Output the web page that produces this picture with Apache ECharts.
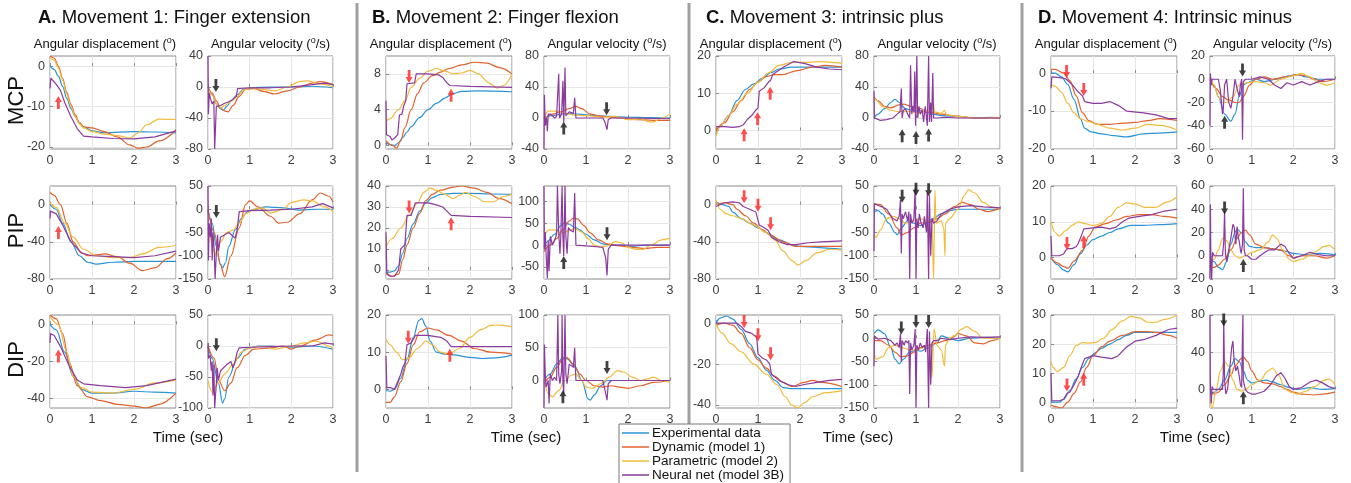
<!DOCTYPE html>
<html><head><meta charset="utf-8">
<script src="https://cdn.jsdelivr.net/npm/echarts@6/dist/echarts.min.js"></script>
<style>html,body{margin:0;padding:0;background:#fff}#c{width:1351px;height:483px}</style>
</head><body><div id="c"></div><script>
// ---------- DATA ----------
const SERIES_NAMES = ['Experimental data','Dynamic (model 1)','Parametric (model 2)','Neural net (model 3B)'];
const PANEL_TITLES = [['A.',' Movement 1: Finger extension'],['B.',' Movement 2: Finger flexion'],['C.',' Movement 3: intrinsic plus'],['D.',' Movement 4: Intrinsic minus']];
const JOINTS = ['MCP','PIP','DIP'];
const TIME_TICKS = [0,1,2,3];

// each: [experimental, dynamic, parametric, neural net] as [time, value] lists
// y-axis: [min, max, tick labels]; arrows: [time, value, direction, colour key]
const A_MCP_D = [
 [[0,0],[0.1,-0.8],[0.2,-2.5],[0.3,-5],[0.4,-8],[0.5,-10.5],[0.6,-12.5],[0.7,-14],[0.8,-15],[1,-16],[1.3,-16.5],[2,-16.2],[2.5,-16.3],[3,-16.5]],
 [[0,2.5],[0.1,2],[0.2,0],[0.3,-3],[0.4,-6.5],[0.5,-9.5],[0.6,-12],[0.7,-14],[0.8,-15],[1,-15.3],[1.3,-16.2],[1.6,-17.5],[1.9,-19.5],[2.1,-20.3],[2.3,-20],[2.6,-18.5],[3,-15.8]],
 [[0,2],[0.1,1.5],[0.2,-0.5],[0.3,-3.5],[0.4,-7],[0.5,-10],[0.6,-12.5],[0.7,-14.3],[0.8,-15.3],[1,-16.2],[1.3,-16.8],[1.6,-17.2],[1.9,-17.8],[2.1,-16.5],[2.3,-14.5],[2.6,-13.1],[3,-13.2]],
 [[0,-5.5],[0.02,-3],[0.15,-4.5],[0.25,-6],[0.35,-9],[0.5,-12.5],[0.65,-15.5],[0.8,-17.3],[1,-17.5],[1.5,-17.9],[2,-18],[2.5,-17.5],[3,-16]]
];
const A_MCP_D_Y = [-20.5, 2.5, [-20,-10,0]];
const A_MCP_D_ARR = [[0.2,-9,'up','r']];

const A_MCP_V = [
 [[0,0],[0.1,-10],[0.2,-22],[0.3,-28],[0.37,-30],[0.45,-25],[0.55,-18],[0.7,-10],[0.85,-3],[1,-1],[1.5,0],[2,0],[2.5,1],[3,-1]],
 [[0,0],[0.1,-8],[0.2,-18],[0.3,-27],[0.4,-31],[0.48,-32],[0.6,-24],[0.75,-12],[0.9,-3],[1.1,-2],[1.35,-6],[1.6,-9],[1.9,-5],[2.2,0],[2.5,5],[2.7,7],[3,3]],
 [[0,-2],[0.1,-10],[0.2,-22],[0.3,-27],[0.4,-24],[0.55,-19],[0.7,-12],[0.85,-4],[1,-1],[1.3,-3],[1.6,-5],[1.9,0],[2.2,7],[2.4,8],[2.7,4],[3,0]],
 [[0,40],[0.01,-35],[0.03,-8],[0.06,-15],[0.1,-22],[0.14,-18],[0.16,-80],[0.19,-80],[0.2,-25],[0.3,-24],[0.4,-21],[0.5,-19],[0.6,-16],[0.68,-12],[0.71,-2],[1,-1],[1.5,-1],[2,0],[2.5,3],[2.8,5],[3,3]]
];
const A_MCP_V_Y = [-80, 40, [-80,-40,0,40]];
const A_MCP_V_ARR = [[0.19,2,'down','k']];

const A_PIP_D = [
 [[0,0],[0.15,-5],[0.3,-20],[0.5,-40],[0.7,-55],[0.9,-62],[1.1,-64],[1.5,-62],[2,-61],[3,-61]],
 [[0,13],[0.1,10],[0.25,0],[0.4,-20],[0.55,-40],[0.75,-52],[0.9,-55],[1.1,-54],[1.3,-53],[1.6,-56],[1.9,-63],[2.2,-71],[2.5,-68],[2.8,-58],[3,-52]],
 [[0,2],[0.15,-3],[0.35,-20],[0.55,-35],[0.8,-48],[1.1,-55],[1.5,-57],[1.9,-57],[2.2,-53],[2.6,-46],[3,-44]],
 [[0,-15],[0.01,-7],[0.15,-10],[0.3,-22],[0.5,-40],[0.75,-52],[1,-55],[1.5,-56],[2,-57],[2.5,-55],[3,-50]]
];
const A_PIP_D_Y = [-80, 20, [-80,-40,0]];
const A_PIP_D_ARR = [[0.2,-30,'up','r']];

const A_PIP_V = [
 [[0,0],[0.1,-30],[0.2,-80],[0.3,-118],[0.35,-126],[0.42,-115],[0.5,-80],[0.65,-45],[0.8,-20],[0.95,-5],[1.1,0],[1.4,5],[1.8,3],[2.2,-2],[2.6,0],[3,0]],
 [[0,0],[0.15,-50],[0.3,-120],[0.4,-145],[0.55,-100],[0.75,-40],[0.9,10],[1.0,18],[1.2,5],[1.5,-15],[1.7,-30],[1.9,-28],[2.2,-10],[2.5,20],[2.7,35],[2.9,28],[3,15]],
 [[0,-30],[0.15,-90],[0.2,-100],[0.3,-70],[0.45,-50],[0.6,-45],[0.75,-30],[0.9,-10],[1.1,0],[1.3,3],[1.5,-8],[1.8,0],[2.0,15],[2.3,20],[2.5,18],[2.8,5],[3,-5]],
 [[0,50],[0.01,-110],[0.03,-30],[0.06,-60],[0.08,-20],[0.1,-110],[0.12,-50],[0.15,-90],[0.17,-150],[0.19,-150],[0.2,-95],[0.23,-55],[0.25,-90],[0.3,-60],[0.4,-55],[0.5,-50],[0.6,-58],[0.65,-62],[0.7,-45],[0.75,-5],[1,-3],[1.5,-2],[2,0],[2.5,5],[2.75,12],[3,3]]
];
const A_PIP_V_Y = [-150, 50, [-150,-100,-50,0,50]];
const A_PIP_V_ARR = [[0.2,-5,'down','k']];

const A_DIP_D = [
 [[0,0],[0.15,-3],[0.35,-15],[0.55,-28],[0.75,-35],[1,-37],[1.5,-37],[2,-36],[2.5,-36.5],[3,-37]],
 [[0,5],[0.15,3],[0.3,-5],[0.45,-20],[0.65,-33],[0.9,-39],[1.2,-41],[1.6,-43],[2.0,-44],[2.3,-45],[2.6,-43],[3,-37]],
 [[0,4],[0.2,0],[0.4,-15],[0.55,-28],[0.75,-34],[1,-36.5],[1.5,-37],[2,-35],[2.5,-31.5],[3,-30]],
 [[0,-10],[0.01,-5],[0.1,-6],[0.25,-12],[0.45,-22],[0.65,-30],[0.8,-32],[1.2,-33],[1.8,-34],[2.3,-33],[2.7,-31],[3,-29.5]]
];
const A_DIP_D_Y = [-45, 5, [-40,-20,0]];
const A_DIP_D_ARR = [[0.2,-17,'up','r']];

const A_DIP_V = [
 [[0,0],[0.1,-20],[0.25,-60],[0.35,-92],[0.4,-85],[0.5,-50],[0.7,-20],[0.9,-5],[1.2,0],[1.5,0],[2,-2],[2.5,0],[3,-5]],
 [[0,0],[0.15,-20],[0.25,-55],[0.4,-72],[0.55,-60],[0.7,-35],[0.9,-15],[1.1,-5],[1.5,-3],[1.8,0],[2.0,-5],[2.2,0],[2.6,10],[2.9,18],[3,17]],
 [[0,-55],[0.1,-75],[0.25,-60],[0.4,-45],[0.6,-30],[0.8,-10],[1,-3],[1.3,0],[1.6,-5],[2,0],[2.3,5],[2.6,8],[2.9,0],[3,-5]],
 [[0,5],[0.01,-20],[0.05,-15],[0.08,-40],[0.1,-25],[0.12,-80],[0.14,-30],[0.16,-100],[0.18,-100],[0.2,-60],[0.22,-35],[0.25,-55],[0.3,-40],[0.45,-30],[0.55,-25],[0.6,-35],[0.65,-25],[0.7,-10],[0.75,-3],[1,-2],[1.5,-1],[2,0],[2.5,0],[2.8,5],[3,3]]
];
const A_DIP_V_Y = [-100, 50, [-100,-50,0,50]];
const A_DIP_V_ARR = [[0.2,2,'down','k']];

const B_MCP_D = [
 [[0,0.3],[0.1,0.1],[0.2,0],[0.3,0.3],[0.4,0.9],[0.5,1.5],[0.6,2.1],[0.8,3.1],[1,4],[1.2,4.7],[1.4,5.3],[1.6,5.8],[1.8,6.05],[2.2,6.1],[3,6]],
 [[0,0.5],[0.15,0],[0.25,-0.3],[0.35,0.5],[0.45,2],[0.6,4],[0.75,5.8],[0.9,7],[1.1,7.8],[1.3,8.2],[1.5,8.6],[1.8,9],[2.1,9.3],[2.4,9.2],[2.7,8.7],[3,8]],
 [[0,2.7],[0.1,3],[0.3,4],[0.45,5],[0.6,6.5],[0.8,7.5],[1.0,8.3],[1.2,8.6],[1.4,8.3],[1.6,8],[1.8,8.1],[2.0,8.4],[2.2,8.0],[2.45,7],[2.65,6.4],[2.8,6.7],[3,8]],
 [[0,5],[0.01,1.2],[0.05,1],[0.1,1],[0.14,0.6],[0.2,0.8],[0.28,1.2],[0.32,3.4],[0.38,3.5],[0.42,4.4],[0.47,5],[0.5,6.9],[0.68,7],[0.72,8],[1,8],[1.25,7.9],[1.35,7.6],[1.45,7.0],[1.52,6.7],[2,6.6],[3,6.5]]
];
const B_MCP_D_Y = [-0.4, 10, [0,4,8]];
const B_MCP_D_ARR = [[0.55,7.7,'down','r'],[1.55,5.6,'up','r']];

const B_MCP_V = [
 [[0,0],[0.2,3],[0.4,5],[0.6,6],[0.8,5],[1.2,3],[1.6,2],[2,1],[2.5,0.5],[3,0]],
 [[0,-2],[0.2,5],[0.4,8],[0.6,12],[0.75,15],[0.9,12],[1.1,5],[1.4,2],[1.8,0],[2.2,-2],[2.6,-3],[3,-3]],
 [[0,0],[0.1,9],[0.3,9],[0.5,6],[0.7,4],[1.0,3],[1.4,1],[1.7,2],[2.0,-2],[2.15,-2],[2.3,-1],[2.5,-5],[2.6,-5],[2.8,0],[3,5]],
 [[0,-40],[0.01,30],[0.03,-10],[0.06,0],[0.08,-17],[0.1,5],[0.15,5],[0.2,3],[0.25,0],[0.3,2],[0.35,57],[0.37,0],[0.42,5],[0.45,48],[0.47,-5],[0.5,65],[0.52,3],[0.55,5],[0.6,8],[0.7,6],[0.73,26],[0.76,0],[1,0],[1.4,0],[1.45,-5],[1.5,-15],[1.53,-2],[1.6,0],[2,0],[3,-1]]
];
const B_MCP_V_Y = [-40, 80, [-40,0,40,80]];
const B_MCP_V_ARR = [[1.49,12,'down','k'],[0.47,-13,'up','k']];

const B_PIP_D = [
 [[0,-1],[0.1,-1],[0.2,-0.5],[0.3,2],[0.4,8],[0.5,15],[0.65,22],[0.8,28],[0.95,32],[1.1,34.5],[1.3,36],[1.6,36.5],[2,36.5],[2.5,36.2],[3,36]],
 [[0,-1],[0.15,-3],[0.3,-2],[0.4,5],[0.5,12],[0.65,20],[0.8,27],[0.95,33],[1.1,36],[1.3,38],[1.6,39.5],[1.8,40],[2.1,39],[2.4,37],[2.7,34],[3,31.5]],
 [[0,11],[0.15,15],[0.35,20],[0.55,26],[0.75,32],[0.9,37],[1.05,39],[1.2,38],[1.4,36],[1.6,34],[1.75,35.5],[1.9,37],[2.1,35],[2.35,32.5],[2.55,32.5],[2.8,35],[3,36]],
 [[0,18],[0.02,-2],[0.05,-2],[0.1,-3],[0.2,-3],[0.3,0],[0.35,10],[0.4,11],[0.45,12],[0.5,26],[0.6,26],[0.7,32],[1.0,32],[1.2,31],[1.35,30],[1.45,28],[1.55,26],[2,25.5],[3,25]]
];
const B_PIP_D_Y = [-4.3, 40, [0,10,20,30,40]];
const B_PIP_D_ARR = [[0.55,30,'down','r'],[1.55,22,'up','r']];

const B_PIP_V = [
 [[0,-5],[0.1,10],[0.25,25],[0.4,45],[0.5,52],[0.6,48],[0.75,40],[0.85,35],[1.0,25],[1.2,12],[1.4,3],[1.6,0],[1.8,0],[2.1,-3],[2.4,0],[3,0]],
 [[0,-15],[0.15,0],[0.3,15],[0.45,35],[0.6,55],[0.7,62],[0.8,60],[0.95,45],[1.1,28],[1.3,12],[1.5,3],[1.8,-2],[2.1,-5],[2.4,-8],[2.7,-5],[3,-5]],
 [[0,20],[0.12,35],[0.25,35],[0.4,28],[0.5,30],[0.6,35],[0.75,38],[0.9,30],[1.05,15],[1.2,0],[1.35,-5],[1.5,-2],[1.7,8],[1.85,5],[2.0,-5],[2.2,-10],[2.35,-10],[2.55,0],[2.8,12],[3,16]],
 [[0,136],[0.01,-10],[0.03,30],[0.05,-20],[0.08,-76],[0.1,10],[0.12,-60],[0.15,20],[0.2,0],[0.25,10],[0.3,25],[0.32,136],[0.35,30],[0.38,-20],[0.4,20],[0.43,136],[0.45,20],[0.47,-25],[0.5,136],[0.52,20],[0.55,-20],[0.58,40],[0.62,35],[0.7,30],[0.73,120],[0.76,0],[1.0,-2],[1.4,-5],[1.47,-30],[1.5,-70],[1.53,-10],[1.6,0],[2,0],[3,0]]
];
const B_PIP_V_Y = [-78, 136, [-50,0,50,100]];
const B_PIP_V_ARR = [[1.5,26,'down','k'],[0.47,-40,'up','k']];

const B_DIP_D = [
 [[0,-0.3],[0.1,-0.5],[0.2,0],[0.35,3],[0.5,8],[0.65,14],[0.78,18.5],[0.85,19],[0.95,17],[1.05,13],[1.2,10],[1.4,9.5],[1.6,9.3],[2,8.6],[2.3,8.3],[2.6,8.5],[3,9.2]],
 [[0,-3.5],[0.1,-3.5],[0.2,-2],[0.35,2],[0.5,7],[0.65,12],[0.8,15.5],[1.0,16.5],[1.2,16],[1.5,14.5],[1.8,13],[2.1,11],[2.5,10],[3,9.5]],
 [[0,13.5],[0.1,12],[0.25,10],[0.4,8],[0.55,8.5],[0.75,11],[0.95,13],[1.1,12],[1.3,10],[1.5,9.5],[1.75,11],[2.0,14],[2.25,16],[2.5,17.2],[2.7,17.3],[3,16.8]],
 [[0,9],[0.02,0.5],[0.1,0.5],[0.2,0],[0.35,4],[0.4,6],[0.45,7],[0.5,12],[0.6,12.5],[0.7,14.5],[1.0,14.5],[1.3,14],[1.45,13],[1.55,11.5],[2,11.5],[3,11.5]]
];
const B_DIP_D_Y = [-5, 20, [0,10,20]];
const B_DIP_D_ARR = [[0.53,14,'down','r'],[1.52,9.2,'up','r']];

const B_DIP_V = [
 [[0,0],[0.15,10],[0.3,25],[0.45,35],[0.55,33],[0.75,20],[0.9,0],[1.05,-28],[1.1,-30],[1.2,-22],[1.35,-8],[1.5,0],[1.8,0],[3,0]],
 [[0,-5],[0.15,5],[0.3,20],[0.45,33],[0.55,35],[0.7,25],[0.85,10],[1.0,0],[1.2,-8],[1.4,-10],[1.6,-8],[1.8,-10],[2.0,-12],[2.3,-8],[2.6,-3],[3,0]],
 [[0,5],[0.1,-20],[0.2,-25],[0.35,-15],[0.5,0],[0.65,8],[0.75,10],[0.9,0],[1.0,-10],[1.15,-12],[1.35,-5],[1.55,5],[1.75,15],[1.9,13],[2.1,5],[2.3,0],[2.5,3],[2.6,5],[2.8,0],[3,-3]],
 [[0,-42],[0.01,55],[0.03,10],[0.05,-10],[0.1,0],[0.12,-35],[0.15,10],[0.2,0],[0.25,5],[0.3,0],[0.33,100],[0.35,10],[0.38,-5],[0.42,15],[0.43,100],[0.45,0],[0.47,-20],[0.5,100],[0.52,10],[0.55,-5],[0.6,25],[0.7,20],[0.73,50],[0.76,0],[1,0],[1.4,0],[1.47,-20],[1.5,-30],[1.53,-5],[1.6,0],[3,0]]
];
const B_DIP_V_Y = [-42, 100, [0,50,100]];
const B_DIP_V_ARR = [[1.5,20,'down','k'],[0.45,-25,'up','k']];

const C_MCP_D = [
 [[0,-1],[0.1,1],[0.3,4],[0.5,8],[0.7,11],[0.9,12.5],[1.1,14],[1.3,15.5],[1.5,16.5],[1.8,17],[2.2,17],[2.6,17],[3,17]],
 [[0,0],[0.2,2],[0.4,5],[0.6,8],[0.8,11],[1.0,13],[1.2,14.5],[1.4,15],[1.6,15],[1.9,16],[2.3,17],[2.6,17.5],[3,17]],
 [[0,-1.5],[0.1,1],[0.3,4],[0.5,7],[0.75,10],[1.0,13],[1.25,15.5],[1.5,17.5],[1.8,18.3],[2.2,18.3],[2.5,18.5],[3,18]],
 [[0,1],[0.2,1],[0.4,0.8],[0.55,1],[0.65,1.5],[0.75,3],[0.85,4],[0.95,5.5],[1.0,6],[1.03,10.5],[1.15,11.5],[1.25,13],[1.3,13.5],[1.35,15],[1.6,17],[1.85,18.5],[2.1,18],[2.4,17],[2.7,16.5],[3,16.3]]
];
const C_MCP_D_Y = [-5, 20, [0,10,20]];
const C_MCP_D_ARR = [[0.67,-1.2,'up','r'],[0.99,3.1,'up','r'],[1.29,10,'up','r']];

const C_MCP_V = [
 [[0,0],[0.1,5],[0.25,12],[0.4,20],[0.5,24],[0.6,20],[0.75,12],[0.9,10],[1.0,9],[1.1,10],[1.2,8],[1.4,5],[1.6,3],[2.0,2],[2.4,0],[2.8,1],[3,0]],
 [[0,27],[0.1,22],[0.25,15],[0.4,13],[0.6,17],[0.7,18],[0.9,15],[1.1,12],[1.3,8],[1.6,5],[2.0,2],[2.4,0],[3,0]],
 [[0,25],[0.05,23],[0.2,15],[0.4,10],[0.6,8],[0.8,9],[1.0,7],[1.2,8],[1.38,9],[1.41,20],[1.44,8],[1.6,6],[1.68,10],[1.72,4],[2,2],[2.5,0],[3,1]],
 [[0,35],[0.01,0],[0.05,-2],[0.15,-3],[0.3,-2],[0.45,0],[0.55,5],[0.62,8],[0.65,38],[0.67,0],[0.7,10],[0.75,12],[0.8,5],[0.85,0],[0.87,68],[0.9,5],[0.92,15],[0.95,8],[0.97,60],[0.99,-10],[1.02,80],[1.04,0],[1.07,15],[1.1,5],[1.15,10],[1.18,-5],[1.22,15],[1.25,0],[1.27,-10],[1.3,80],[1.32,-5],[1.35,20],[1.37,-5],[1.4,58],[1.42,0],[1.5,0],[1.7,1],[2,0],[2.5,0],[3,0]]
];
const C_MCP_V_Y = [-40, 80, [-40,0,40,80]];
const C_MCP_V_ARR = [[0.67,-23,'up','k'],[1.0,-25,'up','k'],[1.3,-22,'up','k']];

const C_PIP_D = [
 [[0,3],[0.15,0],[0.3,-2],[0.4,-8],[0.6,-15],[0.8,-20],[1.0,-25],[1.2,-30],[1.5,-38],[1.8,-43],[2.0,-45],[2.4,-46],[2.7,-47],[3,-48]],
 [[0,0],[0.2,2],[0.4,0],[0.5,-5],[0.7,-12],[0.9,-20],[1.1,-27],[1.3,-33],[1.6,-40],[1.9,-45],[2.2,-45],[2.6,-45],[3,-45]],
 [[0,5],[0.1,-5],[0.25,-10],[0.4,-12],[0.6,-15],[0.9,-22],[1.2,-30],[1.4,-38],[1.6,-50],[1.8,-60],[1.95,-65],[2.15,-60],[2.4,-52],[2.7,-48],[3,-49]],
 [[0,-2],[0.2,2],[0.4,3],[0.55,2],[0.65,-2],[0.8,-5],[0.95,-8],[0.98,-10],[1.03,-22],[1.15,-25],[1.25,-28],[1.28,-30],[1.32,-35],[1.5,-40],[1.7,-43],[1.9,-43],[2.2,-41],[2.5,-40],[3,-39]]
];
const C_PIP_D_Y = [-80, 20, [-80,-40,0]];
const C_PIP_D_ARR = [[0.67,8.5,'down','r'],[1.0,-0.7,'down','r'],[1.3,-20.7,'down','r']];

const C_PIP_V = [
 [[0,-5],[0.1,-3],[0.2,-10],[0.35,-30],[0.5,-50],[0.55,-55],[0.65,-40],[0.8,-25],[0.95,-30],[1.1,-35],[1.25,-30],[1.4,-20],[1.6,-10],[1.8,-3],[2.0,0],[2.5,0],[3,0]],
 [[0,12],[0.15,10],[0.35,-10],[0.55,-40],[0.65,-55],[0.8,-50],[0.95,-40],[1.1,-30],[1.3,-28],[1.5,-20],[1.7,-10],[1.9,5],[2.1,15],[2.3,10],[2.5,0],[2.7,-5],[3,3]],
 [[0,-55],[0.05,-60],[0.15,-45],[0.3,-20],[0.45,-15],[0.6,-20],[0.75,-30],[0.95,-25],[1.1,-20],[1.25,-25],[1.38,-30],[1.42,-150],[1.45,40],[1.48,-30],[1.6,-25],[1.66,-40],[1.69,-100],[1.7,-30],[1.8,-20],[2,0],[2.15,30],[2.25,42],[2.4,35],[2.6,15],[2.8,5],[3,0]],
 [[0,-90],[0.01,12],[0.1,8],[0.2,5],[0.3,0],[0.45,-20],[0.55,-25],[0.6,-15],[0.63,20],[0.65,-95],[0.67,-10],[0.7,-20],[0.75,-5],[0.8,-25],[0.83,-5],[0.85,-150],[0.87,-10],[0.9,-30],[0.95,-20],[0.98,45],[1.0,-150],[1.02,-20],[1.05,-40],[1.08,-10],[1.12,-30],[1.17,-40],[1.2,-15],[1.25,-50],[1.27,35],[1.3,-150],[1.32,30],[1.35,-100],[1.38,-20],[1.42,-30],[1.5,-25],[1.6,-10],[1.8,0],[2.0,5],[2.3,8],[2.6,5],[3,3]]
];
const C_PIP_V_Y = [-150, 50, [-150,-100,-50,0,50]];
const C_PIP_V_ARR = [[0.67,28,'down','k'],[1.0,43,'down','k'],[1.3,42,'down','k']];

const C_DIP_D = [
 [[0,0],[0.1,2.5],[0.25,3.5],[0.4,2],[0.6,-3],[0.8,-10],[1.0,-17],[1.2,-23],[1.4,-28],[1.6,-31.5],[1.8,-32],[2.2,-32],[2.6,-32],[3,-32]],
 [[0,-1],[0.2,0],[0.4,-1],[0.6,-5],[0.8,-12],[1.0,-18],[1.2,-22],[1.4,-26],[1.6,-29],[1.8,-31],[2.1,-29],[2.3,-28],[2.5,-29],[3,-31]],
 [[0,0],[0.15,-5],[0.35,-10],[0.6,-14],[0.9,-20],[1.2,-25],[1.45,-30],[1.65,-36],[1.8,-40],[1.95,-41.5],[2.1,-39],[2.3,-36],[2.6,-34],[3,-33]],
 [[0,0],[0.3,0],[0.5,0],[0.62,-2],[0.7,-4],[0.85,-5],[0.97,-7],[1.0,-15],[1.1,-17],[1.2,-18],[1.28,-20],[1.32,-25],[1.5,-28],[1.7,-30],[1.9,-31],[2.1,-30],[2.4,-29],[2.7,-28],[3,-27.5]]
];
const C_DIP_D_Y = [-41.5, 4, [-40,-20,0]];
const C_DIP_D_ARR = [[0.67,0.8,'down','r'],[1.0,-5.7,'down','r'],[1.3,-15,'down','r']];

const C_DIP_V = [
 [[0,10],[0.1,18],[0.25,10],[0.4,-20],[0.5,-45],[0.6,-55],[0.7,-45],[0.85,-30],[1.0,-25],[1.1,-28],[1.3,-20],[1.5,-10],[1.6,5],[1.8,0],[2.0,-5],[2.3,0],[2.6,2],[3,0]],
 [[0,-5],[0.15,-5],[0.35,-15],[0.5,-30],[0.65,-40],[0.8,-38],[0.95,-30],[1.1,-20],[1.3,-15],[1.5,-10],[1.7,-5],[1.9,3],[2.0,10],[2.2,5],[2.4,-10],[2.6,-12],[2.8,-5],[3,0]],
 [[0,-30],[0.05,-45],[0.2,-40],[0.35,-20],[0.5,-15],[0.65,-20],[0.85,-25],[1.0,-25],[1.2,-20],[1.35,-22],[1.38,-85],[1.43,20],[1.5,-15],[1.6,-25],[1.68,-60],[1.7,-15],[1.8,0],[1.9,5],[2.1,20],[2.2,25],[2.4,15],[2.6,0],[3,0]],
 [[0,-60],[0.01,5],[0.1,-2],[0.25,0],[0.4,-5],[0.5,-15],[0.55,-10],[0.6,-20],[0.63,10],[0.65,-50],[0.67,-5],[0.72,-15],[0.75,-5],[0.8,-10],[0.83,-5],[0.85,-120],[0.87,-10],[0.9,-25],[0.95,-15],[0.98,20],[1.0,-150],[1.02,-15],[1.06,-25],[1.1,-10],[1.15,-20],[1.2,-15],[1.23,-30],[1.27,20],[1.3,-150],[1.32,15],[1.35,-100],[1.38,-10],[1.42,-5],[1.5,-5],[1.6,0],[1.8,-3],[2.0,0],[2.3,3],[2.6,2],[3,3]]
];
const C_DIP_V_Y = [-150, 50, [-150,-100,-50,0,50]];
const C_DIP_V_ARR = [[0.65,22,'down','k'],[1.0,36,'down','k'],[1.3,36,'down','k']];

const D_MCP_D = [
 [[0,0],[0.1,0],[0.25,-1],[0.4,-3],[0.55,-7],[0.7,-12],[0.8,-14.5],[0.95,-15.5],[1.2,-16],[1.5,-16.5],[1.8,-16.8],[2.2,-16],[2.6,-15.8],[3,-15.5]],
 [[0,1],[0.1,1],[0.3,0],[0.45,-2],[0.6,-6],[0.75,-10.5],[0.9,-12.5],[1.1,-13.5],[1.4,-13.5],[1.7,-13.2],[2.0,-13],[2.3,-12.5],[2.6,-12],[3,-12.5]],
 [[0,-3],[0.1,-3.5],[0.25,-5],[0.4,-8],[0.55,-10.5],[0.7,-12],[0.9,-12.8],[1.1,-13.5],[1.4,-14.5],[1.7,-15],[2.0,-14.5],[2.3,-13.5],[2.6,-13.8],[3,-15]],
 [[0,-4],[0.02,-1],[0.2,-1.2],[0.35,-1.5],[0.5,-3],[0.65,-5],[0.75,-6],[0.8,-7.5],[1.0,-8],[1.2,-8],[1.4,-7.5],[1.6,-8.5],[1.8,-10],[2.2,-10.5],[2.5,-11],[2.8,-12],[3,-12]]
];
const D_MCP_D_Y = [-20, 4.5, [-20,-10,0]];
const D_MCP_D_ARR = [[0.37,0.4,'down','r'],[0.78,-4.3,'down','r']];

const D_MCP_V = [
 [[0,0],[0.1,-5],[0.2,-15],[0.35,-30],[0.5,-36],[0.6,-30],[0.7,-15],[0.8,-5],[0.9,-3],[1.1,0],[1.3,-2],[1.6,0],[1.9,3],[2.1,4],[2.3,2],[2.6,0],[3,0]],
 [[0,0],[0.15,-8],[0.3,-15],[0.45,-18],[0.6,-20],[0.7,-20],[0.8,-15],[0.95,-5],[1.1,0],[1.3,2],[1.5,0],[1.8,2],[2.1,4],[2.3,3],[2.5,0],[2.7,-2],[3,0]],
 [[0,3],[0.1,-5],[0.2,-15],[0.3,-20],[0.4,-20],[0.55,-15],[0.7,-5],[0.9,-3],[1.1,-2],[1.3,-3],[1.45,-5],[1.7,0],[2.0,3],[2.2,5],[2.4,2],[2.6,-3],[2.8,-5],[3,-3]],
 [[0,-40],[0.01,5],[0.03,-5],[0.05,0],[0.1,0],[0.2,0],[0.25,-10],[0.3,-30],[0.32,-25],[0.35,-5],[0.4,0],[0.45,-20],[0.5,-25],[0.55,-15],[0.6,0],[0.65,-8],[0.7,-15],[0.73,-5],[0.76,0],[0.78,-52],[0.8,-2],[0.85,0],[1.0,0],[1.2,2],[1.4,0],[1.55,-5],[1.7,-8],[1.85,-3],[2.0,-5],[2.2,-2],[2.4,-5],[2.6,-2],[2.8,0],[3,0]]
];
const D_MCP_V_Y = [-60, 20, [-60,-40,-20,0,20]];
const D_MCP_V_ARR = [[0.78,8,'down','k'],[0.35,-37,'up','k']];

const D_PIP_D = [
 [[0,0],[0.15,-2],[0.3,-3.5],[0.4,-4],[0.55,-2],[0.7,1],[0.85,3.5],[1.0,5],[1.2,6],[1.4,7],[1.6,8],[1.9,9],[2.2,9],[2.6,9.2],[3,9.5]],
 [[0,0],[0.15,-1.5],[0.3,-2.5],[0.4,-3],[0.55,-1],[0.75,2],[0.9,6],[1.05,8.5],[1.3,9.5],[1.55,10.5],[1.8,11.5],[2.1,12],[2.4,12],[2.7,11.5],[3,11]],
 [[0,10],[0.1,7],[0.2,6],[0.35,7.5],[0.5,9],[0.65,10],[0.8,9.5],[1.0,9],[1.2,9.5],[1.4,11.5],[1.6,14],[1.8,15.3],[2.0,15],[2.25,14],[2.5,14],[2.75,15.5],[3,17]],
 [[0,6],[0.02,0.5],[0.2,0.5],[0.3,1],[0.35,2],[0.4,2.5],[0.5,2.5],[0.6,3],[0.65,4],[0.72,6],[0.78,8],[1.0,8.3],[1.2,8.5],[1.4,8],[1.55,8.5],[1.7,10],[1.85,11],[2.1,11.5],[2.4,12],[2.7,13],[3,13.5]]
];
const D_PIP_D_Y = [-6, 20, [0,10,20]];
const D_PIP_D_ARR = [[0.38,3.9,'down','r'],[0.78,4.4,'up','r']];

const D_PIP_V = [
 [[0,-2],[0.1,-5],[0.2,-10],[0.3,-12],[0.4,-5],[0.5,10],[0.6,20],[0.65,23],[0.75,20],[0.85,12],[0.95,8],[1.1,7],[1.3,7],[1.5,6],[1.8,4],[2.0,2],[2.3,1],[2.6,2],[3,1]],
 [[0,-10],[0.1,-10],[0.2,-8],[0.35,-3],[0.5,5],[0.65,15],[0.75,20],[0.85,22],[0.95,18],[1.1,10],[1.3,7],[1.5,6],[1.7,5],[1.9,0],[2.0,-2],[2.2,0],[2.5,0],[2.8,-2],[3,0]],
 [[0,-5],[0.1,-3],[0.2,5],[0.3,15],[0.4,13],[0.5,5],[0.6,0],[0.7,-2],[0.85,0],[1.0,3],[1.2,5],[1.4,12],[1.5,18],[1.6,15],[1.75,5],[1.9,-3],[2.0,-5],[2.2,-3],[2.5,3],[2.75,8],[2.85,9],[3,5]],
 [[0,-20],[0.01,44],[0.02,0],[0.04,-20],[0.06,3],[0.08,2],[0.1,0],[0.2,0],[0.3,0],[0.33,12],[0.35,38],[0.37,2],[0.4,-5],[0.45,5],[0.5,15],[0.55,27],[0.58,25],[0.62,10],[0.65,25],[0.68,15],[0.7,13],[0.73,5],[0.75,2],[0.78,10],[0.8,58],[0.82,5],[0.85,0],[0.9,0],[1.0,-3],[1.1,-3],[1.2,0],[1.4,5],[1.55,5],[1.7,10],[1.8,8],[1.9,2],[2.0,-2],[2.2,0],[2.4,3],[2.6,1],[2.8,0],[3,0]]
];
const D_PIP_V_Y = [-20, 60, [-20,0,20,40,60]];
const D_PIP_V_ARR = [[0.35,41,'down','k'],[0.8,-8.3,'up','k']];

const D_DIP_D = [
 [[0,0],[0.2,0],[0.3,1],[0.45,4],[0.6,8],[0.75,12],[0.9,15],[1.05,17],[1.2,18.5],[1.4,20],[1.6,21.5],[1.8,23],[2.0,24],[2.4,24],[3,24]],
 [[0,-1],[0.1,-1.5],[0.25,-2],[0.4,0],[0.55,3],[0.7,7],[0.85,12],[1.0,16],[1.2,19],[1.4,21],[1.7,23],[2.0,24.3],[2.3,24.3],[2.5,24],[2.8,23],[3,22]],
 [[0,14],[0.05,12],[0.15,10.5],[0.3,12],[0.45,16],[0.6,19.5],[0.75,20.5],[0.9,20.3],[1.05,20.5],[1.25,22],[1.45,25],[1.7,28],[1.9,29.5],[2.1,29],[2.3,27.5],[2.5,27.5],[2.7,28.5],[3,30]],
 [[0,10],[0.02,0.5],[0.2,0.5],[0.3,1],[0.38,3],[0.45,3.5],[0.55,6],[0.65,9],[0.72,12],[0.8,15],[0.9,15.5],[1.0,16],[1.2,15.5],[1.45,15],[1.6,16],[1.8,19],[2.0,21],[2.2,21.5],[2.5,23],[2.8,25],[3,25.5]]
];
const D_DIP_D_Y = [-2, 30, [0,10,20,30]];
const D_DIP_D_ARR = [[0.38,5.9,'down','r'],[0.78,7.9,'up','r']];

const D_DIP_V = [
 [[0,-5],[0.1,-3],[0.2,0],[0.35,10],[0.5,25],[0.6,33],[0.7,30],[0.8,20],[0.9,10],[1.0,7],[1.2,9],[1.35,10],[1.5,8],[1.7,5],[1.9,2],[2.1,0],[2.4,2],[2.7,0],[3,1]],
 [[0,-3],[0.1,-5],[0.2,-3],[0.35,5],[0.5,15],[0.6,25],[0.75,33],[0.8,35],[0.9,30],[1.0,20],[1.15,10],[1.3,7],[1.5,6],[1.7,3],[1.85,0],[2.0,-3],[2.2,-5],[2.5,-6],[2.7,-5],[3,-3]],
 [[0,-10],[0.05,-20],[0.15,0],[0.25,20],[0.35,30],[0.45,25],[0.55,10],[0.65,0],[0.75,-2],[0.85,0],[1.0,5],[1.2,10],[1.4,20],[1.5,23],[1.65,15],[1.8,0],[1.95,-3],[2.1,-5],[2.3,-2],[2.5,3],[2.75,10],[2.85,11],[3,5]],
 [[0,80],[0.01,0],[0.03,-15],[0.05,3],[0.08,0],[0.1,0],[0.2,0],[0.3,0],[0.32,20],[0.33,75],[0.35,10],[0.38,-5],[0.42,0],[0.47,20],[0.52,45],[0.55,52],[0.58,30],[0.62,20],[0.66,25],[0.7,15],[0.73,5],[0.76,2],[0.78,60],[0.79,80],[0.8,10],[0.82,5],[0.85,0],[0.9,-3],[1.0,-5],[1.1,-5],[1.3,-2],[1.45,5],[1.6,15],[1.7,18],[1.8,12],[1.9,3],[2.0,0],[2.2,2],[2.4,8],[2.55,10],[2.7,7],[2.85,3],[3,1]]
];
const D_DIP_V_Y = [-20, 80, [0,40,80]];
const D_DIP_V_ARR = [[0.33,74.5,'down','k'],[0.8,-9,'up','k']];

// ---------- assembly ----------
const PLOTS = [
 [A_MCP_D,A_MCP_D_Y,A_MCP_D_ARR],[A_MCP_V,A_MCP_V_Y,A_MCP_V_ARR],
 [A_PIP_D,A_PIP_D_Y,A_PIP_D_ARR],[A_PIP_V,A_PIP_V_Y,A_PIP_V_ARR],
 [A_DIP_D,A_DIP_D_Y,A_DIP_D_ARR],[A_DIP_V,A_DIP_V_Y,A_DIP_V_ARR],
 [B_MCP_D,B_MCP_D_Y,B_MCP_D_ARR],[B_MCP_V,B_MCP_V_Y,B_MCP_V_ARR],
 [B_PIP_D,B_PIP_D_Y,B_PIP_D_ARR],[B_PIP_V,B_PIP_V_Y,B_PIP_V_ARR],
 [B_DIP_D,B_DIP_D_Y,B_DIP_D_ARR],[B_DIP_V,B_DIP_V_Y,B_DIP_V_ARR],
 [C_MCP_D,C_MCP_D_Y,C_MCP_D_ARR],[C_MCP_V,C_MCP_V_Y,C_MCP_V_ARR],
 [C_PIP_D,C_PIP_D_Y,C_PIP_D_ARR],[C_PIP_V,C_PIP_V_Y,C_PIP_V_ARR],
 [C_DIP_D,C_DIP_D_Y,C_DIP_D_ARR],[C_DIP_V,C_DIP_V_Y,C_DIP_V_ARR],
 [D_MCP_D,D_MCP_D_Y,D_MCP_D_ARR],[D_MCP_V,D_MCP_V_Y,D_MCP_V_ARR],
 [D_PIP_D,D_PIP_D_Y,D_PIP_D_ARR],[D_PIP_V,D_PIP_V_Y,D_PIP_V_ARR],
 [D_DIP_D,D_DIP_D_Y,D_DIP_D_ARR],[D_DIP_V,D_DIP_V_Y,D_DIP_V_ARR]
];

const FONT = '"Liberation Sans", Arial, Helvetica, sans-serif';
const COLORS = ['#2a93d5','#e0622e','#f1bc3d','#8b3a9e'];
const COLS = [[[50,176],[208,333]],[[386,512],[544,670]],[[716,842],[874,1000]],[[1051,1177],[1210,1335]]];
const ROWS = [[56,149],[186,279],[315,408]];
const DOWN = 'path://M3,0 L7,0 L7,7 L10,7 L5,13 L0,7 L3,7 Z';
const UP = 'path://M5,0 L10,6 L7,6 L7,13 L3,13 L3,6 L0,6 Z';
const FRAME = '#8a8a8a';

const grids=[], xAxes=[], yAxes=[], series=[];
PLOTS.forEach((p, i) => {
  const panel = Math.floor(i/6), row = Math.floor((i%6)/2), kind = i%2;
  const [x0,x1] = COLS[panel][kind], [y0,y1] = ROWS[row];
  grids.push({left:x0, top:y0, width:x1-x0, height:y1-y0, show:true, borderColor:FRAME, borderWidth:1, backgroundColor:'#fff'});
  xAxes.push({gridIndex:i, type:'value', min:0, max:3, interval:1,
    axisLabel:{fontSize:12.5, color:'#3c3c3c', margin:5, fontFamily:FONT, customValues:TIME_TICKS},
    axisTick:{inside:true, length:3, lineStyle:{color:FRAME}, customValues:TIME_TICKS},
    axisLine:{show:false}, splitLine:{show:true, lineStyle:{color:'#e6e6e6', width:1}}});
  const [ymin,ymax,yt] = p[1];
  yAxes.push({gridIndex:i, type:'value', min:ymin, max:ymax,
    axisLabel:{fontSize:12.5, color:'#3c3c3c', margin:5, fontFamily:FONT, customValues:yt},
    axisTick:{inside:true, length:3, lineStyle:{color:FRAME}, customValues:yt},
    axisLine:{show:false}, splitLine:{show:true, lineStyle:{color:'#e6e6e6', width:1}}});
  p[0].forEach((d, s) => {
    series.push({type:'line', name:SERIES_NAMES[s], xAxisIndex:i, yAxisIndex:i, data:d,
      showSymbol:false, symbol:'none', smooth: s===3 ? false : 0.35, smoothMonotone:'x',
      lineStyle:{width:1.2, color:COLORS[s]}, itemStyle:{color:COLORS[s]}, z:2+s, silent:true, animation:false});
  });
  series.push({type:'scatter', xAxisIndex:i, yAxisIndex:i, silent:true, z:20, clip:false, animation:false,
    symbolSize:[7,13],
    data:p[2].map(a => ({value:[a[0],a[1]], symbol: a[2]==='up'?UP:DOWN, itemStyle:{color: a[3]==='r'?'#f22':'#111'}}))});
});

const graphic = [];
[357, 689, 1022].forEach(x => graphic.push({type:'line', z:-1, shape:{x1:x,y1:3,x2:x,y2:472}, style:{stroke:'#a0a0a0', lineWidth:3}}));
const titleX = [38, 372, 706, 1038];
PANEL_TITLES.forEach((t, k) => {
  graphic.push({type:'text', x:titleX[k], y:18, style:{text:'{b|'+t[0]+'}'+t[1], font:'18.5px '+FONT, fill:'#111', verticalAlign:'middle',
    rich:{b:{fontWeight:'bold', fontSize:18.5, fontFamily:FONT, fill:'#111'}}}});
  const dispC = (COLS[k][0][0]+COLS[k][0][1])/2, velC = (COLS[k][1][0]+COLS[k][1][1])/2;
  graphic.push({type:'text', x:dispC-8, y:44, style:{text:'Angular displacement ({s|o})', font:'13px '+FONT, fill:'#111', align:'center', verticalAlign:'middle',
    rich:{s:{fontSize:9, verticalAlign:'top', fontFamily:FONT, fill:'#111', padding:[0,0,6,0]}}}});
  graphic.push({type:'text', x:velC, y:44, style:{text:'Angular velocity ({s|o}/s)', font:'13px '+FONT, fill:'#111', align:'center', verticalAlign:'middle',
    rich:{s:{fontSize:9, verticalAlign:'top', fontFamily:FONT, fill:'#111', padding:[0,0,6,0]}}}});
});
[188, 526, 858, 1195].forEach(x => graphic.push({type:'text', x:x, y:438, style:{text:'Time (sec)', font:'15px '+FONT, fill:'#111', align:'center', verticalAlign:'middle'}}));
JOINTS.forEach((j, r) => graphic.push({type:'text', x:17, y:(ROWS[r][0]+ROWS[r][1])/2 - 2, rotation:Math.PI/2,
  style:{text:j, font:'22px '+FONT, fill:'#111', align:'center', verticalAlign:'middle'}}));

const chart = echarts.init(document.getElementById('c'), null, {renderer:'canvas'});
chart.setOption({
  animation:false,
  backgroundColor:'#fff',
  textStyle:{fontFamily:FONT},
  grid:grids, xAxis:xAxes, yAxis:yAxes, series:series, graphic:graphic,
  legend:{data:SERIES_NAMES, orient:'vertical', left:619, top:424, height:80, itemGap:0, itemWidth:27, itemHeight:1.5, icon:'rect',
    backgroundColor:'#fff', borderColor:'#777', borderWidth:1, padding:[2,6,6,3], z:30,
    textStyle:{fontSize:13.5, lineHeight:14, color:'#111', fontFamily:FONT, padding:[0,0,0,-2]}, selectedMode:false}
});
</script></body></html>
